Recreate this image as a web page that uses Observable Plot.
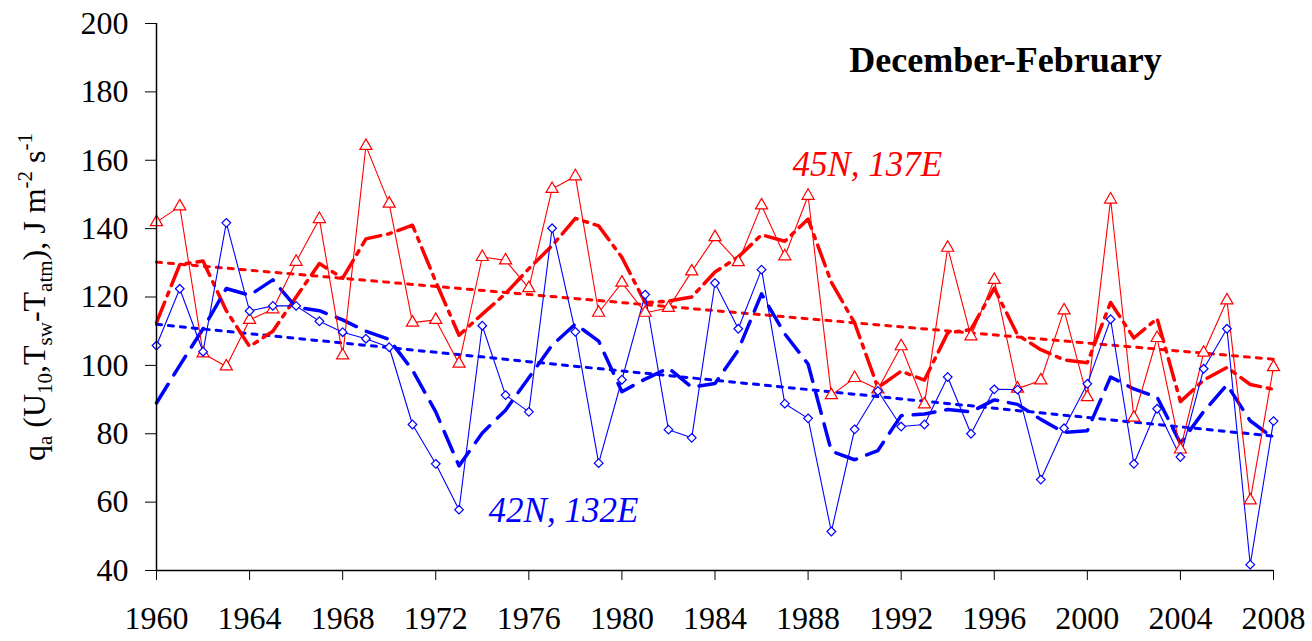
<!DOCTYPE html>
<html>
<head>
<meta charset="utf-8">
<script src="https://cdn.jsdelivr.net/npm/d3@7"></script>
<script src="https://cdn.jsdelivr.net/npm/@observablehq/plot@0.6"></script>
<style>
  html, body { margin: 0; padding: 0; background: #fff; }
  #chart svg { display: block; }
</style>
</head>
<body>
<div id="chart"></div>
<script>
// ---- Data ----
const years = [1960,1961,1962,1963,1964,1965,1966,1967,1968,1969,
               1970,1971,1972,1973,1974,1975,1976,1977,1978,1979,
               1980,1981,1982,1983,1984,1985,1986,1987,1988,1989,
               1990,1991,1992,1993,1994,1995,1996,1997,1998,1999,
               2000,2001,2002,2003,2004,2005,2006,2007,2008];

// 45N, 137E (red, triangles)
const red45 = [141.9,146.5,103.5,99.7,113.3,116.4,130.3,142.8,102.9,164.2,
               147.3,112.5,113.3,100.5,131.7,130.7,122.6,151.6,155.3,115.4,
               124.2,115.4,116.8,127.5,137.5,130.2,146.8,131.9,149.6,91.3,
               96.3,93.0,105.6,88.6,134.4,108.5,125.0,93.2,95.6,116.1,
               90.7,148.5,84.7,108.0,75.4,103.7,119.0,60.5,99.5];

// 42N, 132E (blue, diamonds)
const blue42 = [105.8,122.4,104.0,141.7,115.9,117.4,117.4,112.9,109.7,107.8,
                105.3,82.7,71.2,57.8,111.6,91.3,86.4,140.1,109.8,71.4,
                95.8,120.7,81.2,78.8,124.1,110.7,128.0,88.8,84.5,51.4,
                81.3,92.5,82.1,82.7,96.6,80.0,93.0,92.9,66.6,81.6,
                94.6,113.5,71.2,87.3,73.2,99.0,110.7,41.7,83.7];

// smoothed curves (thick dash-dot red, thick dashed blue)
const redSmooth = [112.5,129.5,130.5,116.0,105.5,110.0,120.0,129.8,125.5,137.0,
                   138.5,141.0,124.5,108.8,115.0,121.0,128.3,135.0,143.0,140.8,
                   131.6,118.3,118.8,120.0,127.3,131.7,138.2,136.3,142.8,124.3,
                   112.4,93.5,98.3,95.7,109.5,110.5,122.6,108.9,104.6,101.6,
                   100.8,118.4,108.0,113.7,89.4,95.7,99.4,94.4,93.0];
const blueSmooth = [89.0,100.0,110.7,122.5,120.5,125.0,117.0,116.0,113.3,110.0,
                    107.6,98.6,86.4,70.6,80.2,86.9,96.4,105.9,112.1,107.1,
                    92.3,96.0,99.2,93.6,94.7,104.5,120.9,109.2,100.4,74.9,
                    72.4,75.1,85.3,85.8,87.1,86.4,89.9,88.6,84.2,80.4,
                    80.9,96.6,93.1,90.7,77.2,86.5,94.3,83.8,78.7];

// linear trends (end points)
const trendYears = [1960, 2008];
const redTrend = [130.2, 101.8];
const blueTrend = [112.0, 79.3];

// axis ticks
const xTicks = [1960,1964,1968,1972,1976,1980,1984,1988,1992,1996,2000,2004,2008];
const yTicks = [40,60,80,100,120,140,160,180,200];

// labels
const titleText = "December-February";
const redLabel = "45N, 137E";
const blueLabel = "42N, 132E";

// ---- Tables built from the arrays ----
const rows = years.map((year, i) => ({
  year, red: red45[i], blue: blue42[i], redS: redSmooth[i], blueS: blueSmooth[i]
}));
const trendRows = trendYears.map((year, i) => ({year, red: redTrend[i], blue: blueTrend[i]}));

const RED = "#ff0000", BLUE = "#0000ff";
const FONT = "'Liberation Serif', 'Times New Roman', Times, serif";

const chart = Plot.plot({
  width: 1312,
  height: 641,
  marginLeft: 156,
  marginRight: 39,
  marginTop: 23,
  marginBottom: 71,
  style: {fontFamily: FONT, fontSize: "32px", background: "#fff", color: "#000", overflow: "visible"},
  x: {domain: [1960, 2008]},
  y: {domain: [40, 200]},
  marks: [
    // linear trends (dotted)
    Plot.line(trendRows, {x: "year", y: "red", stroke: RED, strokeWidth: 3, strokeDasharray: "5,7"}),
    Plot.line(trendRows, {x: "year", y: "blue", stroke: BLUE, strokeWidth: 3, strokeDasharray: "5,7"}),
    // smoothed curves
    Plot.line(rows, {x: "year", y: "redS", stroke: RED, strokeWidth: 3.5, strokeDasharray: "22,7,4,7"}),
    Plot.line(rows, {x: "year", y: "blueS", stroke: BLUE, strokeWidth: 3.5, strokeDasharray: "22,11"}),
    // raw series
    Plot.line(rows, {x: "year", y: "red", stroke: RED, strokeWidth: 1.1}),
    Plot.line(rows, {x: "year", y: "blue", stroke: BLUE, strokeWidth: 1.1}),
    Plot.dot(rows, {x: "year", y: "red", symbol: "triangle", r: 4.5, stroke: RED, fill: "#fff", strokeWidth: 1.2}),
    Plot.dot(rows, {x: "year", y: "blue", symbol: "diamond2", r: 3.9, stroke: BLUE, fill: "#fff", strokeWidth: 1.2}),
    // axes
    Plot.ruleX([1960], {stroke: "#000", strokeWidth: 1.5}),
    Plot.ruleY([40], {stroke: "#000", strokeWidth: 1.5}),
    Plot.axisX({ticks: xTicks, tickSize: 10, tickPadding: 26, tickFormat: d => String(d), label: null, fontSize: 32, stroke: "#000"}),
    Plot.axisY({ticks: yTicks, tickSize: 11, tickPadding: 17, label: null, fontSize: 32, stroke: "#000"}),
    // annotations
    Plot.text([titleText], {x: 2003.2, y: 189.3, text: d => d, textAnchor: "end", fontWeight: "bold", fontSize: 36, fill: "#000"}),
    Plot.text([redLabel], {x: 1987.33, y: 158.8, text: d => d, textAnchor: "start", fontStyle: "italic", fontSize: 35, fill: RED}),
    Plot.text([blueLabel], {x: 1974.27, y: 57.4, text: d => d, textAnchor: "start", fontStyle: "italic", fontSize: 35, fill: BLUE})
  ]
});

// y-axis title with sub/superscripts
const svg = d3.select(chart);
const yl = svg.append("text")
  .attr("transform", "translate(45,297) rotate(-90)")
  .attr("text-anchor", "middle")
  .attr("font-family", FONT)
  .attr("font-size", 32)
  .attr("fill", "#000");
const parts = [
  ["q", 0], ["a", 1], [" (U", 0], ["10", 1], [",T", 0], ["sw", 1], ["-T", 0], ["atm", 1],
  ["), J m", 0], ["-2", 2], [" s", 0], ["-1", 2]
];
let shift = 0;
for (const [t, kind] of parts) {
  const target = kind === 1 ? 7 : kind === 2 ? -13 : 0;
  const ts = yl.append("tspan").text(t).attr("dy", target - shift);
  if (kind) ts.attr("font-size", 21);
  shift = target;
}

document.getElementById("chart").appendChild(chart);
</script>
</body>
</html>
